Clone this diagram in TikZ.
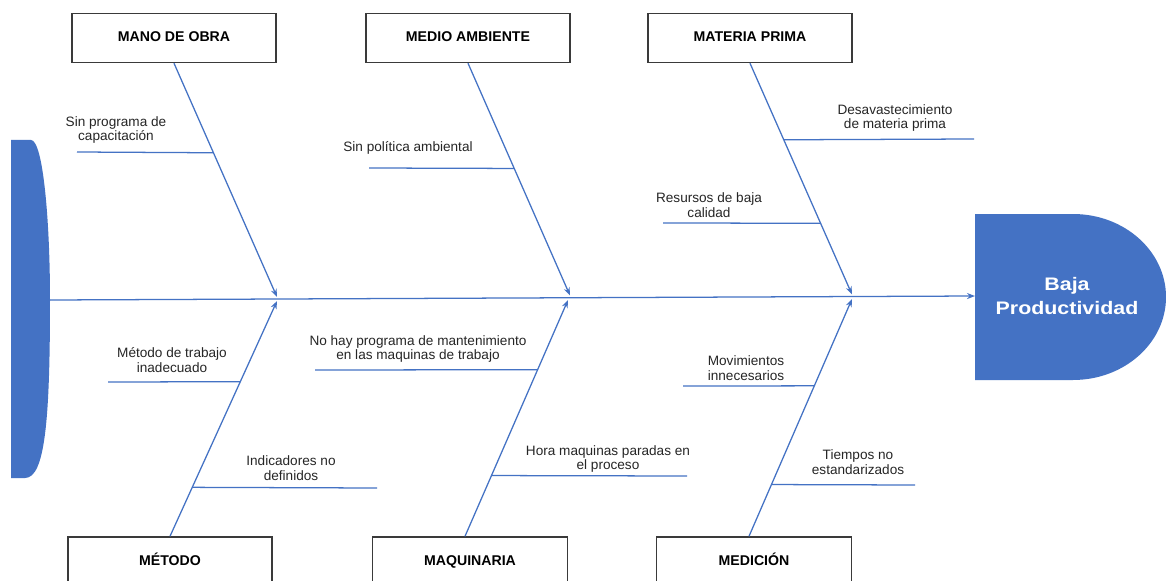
\documentclass[tikz,border=0pt]{standalone}
\usepackage{fontspec}
\setmainfont{Liberation Sans}
\newfontfamily\headfont{Liberation Sans}[FakeStretch=1.18]
\usetikzlibrary{arrows.meta,calc}
\definecolor{obl}{HTML}{4472C4}
\definecolor{bx}{HTML}{3A3A3A}
\begin{document}
\begin{tikzpicture}[x=0.75pt,y=-0.75pt,
  bone/.style={draw=obl,line width=0.95pt},
  tipped/.style={-{Stealth[length=6pt,width=4.5pt]}},
  catbox/.style={draw=bx,line width=1.1pt,fill=white,minimum width=153pt,minimum height=36.75pt,inner sep=0pt,
    text height=7.6pt,text depth=1.6pt,
    font=\bfseries\fontsize{10.6}{12}\selectfont},
  cause/.style={font=\fontsize{10.2}{11}\selectfont,align=center,inner sep=0pt,text=black!85}]
\useasboundingbox (0,0) rectangle (1166,581);
\clip (0,0) rectangle (1166,581);
\fill[white] (0,0) rectangle (1166,581);
% tail
\fill[obl] (11,140) -- (31,140) .. controls (43,140) and (50,220) .. (50,300)
  .. controls (50,420) and (45,478) .. (25,478) -- (11,478) -- cycle;
\coordinate (spS) at (50,300);
% head
\fill[obl] (975,214) -- (1073,214) .. controls (1124.4,214) and (1166,251.2) .. (1166,297)
  .. controls (1166,342.8) and (1124.4,380) .. (1073,380) -- (975,380) -- cycle;
\coordinate (spE) at (975,296);
\node[text=white,align=center,inner sep=0pt,font=\headfont\bfseries\fontsize{13.6}{17.3}\selectfont] (eff) at (1067,296) {Baja\\Productividad};
% spine
\draw[bone,tipped] (spS) -- (spE);
% category boxes
\node[catbox] (mo) at (174,38) {MANO DE OBRA};
\node[catbox] (md) at (468,38) {MEDIO AMBIENTE};
\node[catbox] (mp) at (750,38) {MATERIA PRIMA};
\node[catbox] (me) at (170,561.5) {MÉTODO};
\node[catbox,minimum width=146pt] (mq) at (470,561.5) {MAQUINARIA};
\node[catbox,minimum width=146pt] (mc) at (754,561.5) {MEDICIÓN};
% bone tips
\coordinate (t1) at (277,297);
\coordinate (t2) at (570,295.5);
\coordinate (t3) at (852,294.5);
\coordinate (b1) at (277,301);
\coordinate (b2) at (568,300);
\coordinate (b3) at (852,299);
\coordinate (mqn) at ([xshift=-3.75pt]mq.north);
\coordinate (mcn) at ([xshift=-3.75pt]mc.north);
\draw[bone,tipped] (mo.south) -- (t1);
\draw[bone,tipped] (md.south) -- (t2);
\draw[bone,tipped] (mp.south) -- (t3);
\draw[bone,tipped] (me.north) -- (b1);
\draw[bone,tipped] (mqn) -- (b2);
\draw[bone,tipped] (mcn) -- (b3);
% sub-cause lines
\coordinate (s1) at (77,152);
\coordinate (s2) at (369,168);
\coordinate (s3) at (974,139);
\coordinate (s4) at (663,223);
\coordinate (s5) at (108,382);
\coordinate (s6) at (377,488);
\coordinate (s7) at (315,370);
\coordinate (s8) at (687,476);
\coordinate (s9) at (683,386);
\coordinate (s10) at (915,485);
\draw[bone] (s1) -- ($(mo.south)!0.383!(t1)$);
\draw[bone] (s2) -- ($(md.south)!0.453!(t2)$);
\draw[bone] (s3) -- ($(mp.south)!0.331!(t3)$);
\draw[bone] (s4) -- ($(mp.south)!0.692!(t3)$);
\draw[bone] (s5) -- ($(me.north)!0.657!(b1)$);
\draw[bone] (s6) -- ($(me.north)!0.208!(b1)$);
\draw[bone] (s7) -- ($(mqn)!0.705!(b2)$);
\draw[bone] (s8) -- ($(mqn)!0.257!(b2)$);
\draw[bone] (s9) -- ($(mcn)!0.634!(b3)$);
\draw[bone] (s10) -- ($(mcn)!0.218!(b3)$);
% cause labels
\node[cause] (c1) at (116,130) {Sin programa de\\capacitación};
\node[cause] (c2) at (408,148) {Sin política ambiental};
\node[cause] (c3) at (895,118) {Desavastecimiento\\de materia prima};
\node[cause] (c4) at (709,205) {Resursos de baja\\calidad};
\node[cause] (c5) at (172,360) {Método de trabajo\\inadecuado};
\node[cause] (c6) at (291,468) {Indicadores no\\definidos};
\node[cause] (c7) at (418,349) {No hay programa de mantenimiento\\en las maquinas de trabajo};
\node[cause] (c8) at (608,459) {Hora maquinas paradas en\\el proceso};
\node[cause] (c9) at (746,368) {Movimientos\\innecesarios};
\node[cause] (c10) at (858,462) {Tiempos no\\estandarizados};
\end{tikzpicture}
\end{document}
